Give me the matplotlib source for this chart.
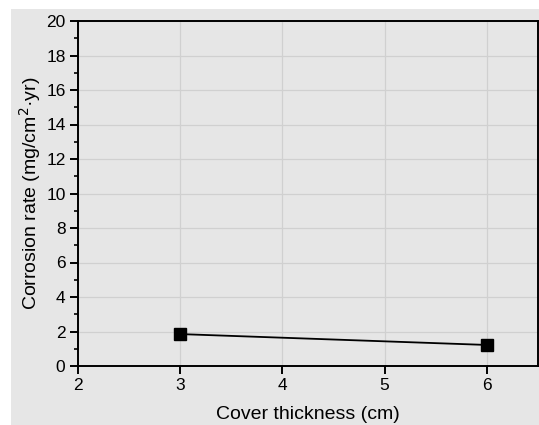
import numpy as np
import matplotlib.pyplot as plt
from matplotlib.patches import Rectangle
from matplotlib.ticker import MultipleLocator

plt.rcParams['font.family'] = ['Liberation Sans', 'DejaVu Sans']

thickness = [3, 6]
rate = [1.85, 1.22]

fig = plt.figure(figsize=(5.39, 4.25), dpi=100)
fig.patch.set_facecolor('white')
# gray panel behind the plot
fig.patches.append(Rectangle((11/539, 0), 1, 1 - 9/425, transform=fig.transFigure,
                             facecolor='#e6e6e6', edgecolor='none', zorder=-10))

ax = fig.add_axes([78/539, 1 - 366/425, 460/539, 345/425])
ax.set_facecolor('#e6e6e6')

ax.plot(thickness, rate, color='black', lw=1.3, marker='s', ms=9, zorder=3)

ax.set_xlim(2, 6.5)
ax.set_ylim(0, 20)
ax.xaxis.set_major_locator(MultipleLocator(1))
ax.yaxis.set_major_locator(MultipleLocator(2))
ax.yaxis.set_minor_locator(MultipleLocator(1))
ax.grid(True, color='#d0d0d0', lw=0.9)
ax.set_axisbelow(True)

for s in ax.spines.values():
    s.set_linewidth(1.4)
    s.set_color('black')
ax.tick_params(which='major', direction='out', length=6, width=1.4, labelsize=12.5, pad=3)
ax.tick_params(which='minor', direction='out', length=3, width=1.2)

ax.set_xlabel('Cover thickness (cm)', fontsize=14, labelpad=9)
ax.set_ylabel('Corrosion rate (mg/cm$^2$·yr)', fontsize=14, labelpad=2)

fig.savefig('out.png', dpi=100)
